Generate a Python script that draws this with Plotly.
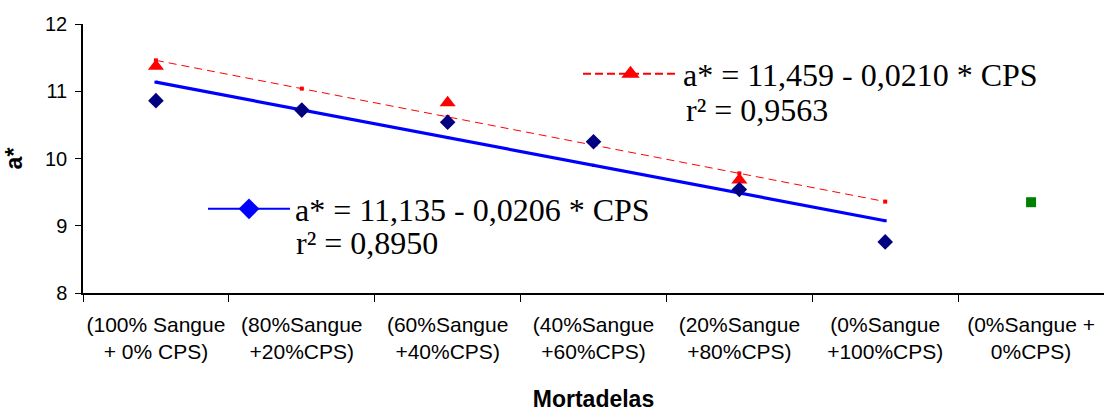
import plotly.graph_objects as go

categories = [
    "(100% Sangue<br>+ 0% CPS)",
    "(80%Sangue<br>+20%CPS)",
    "(60%Sangue<br>+40%CPS)",
    "(40%Sangue<br>+60%CPS)",
    "(20%Sangue<br>+80%CPS)",
    "(0%Sangue<br>+100%CPS)",
    "(0%Sangue +<br>0%CPS)",
]

# observed a* values (diamonds)
blue_cats = categories[0:6]
blue_values = [10.86, 10.72, 10.54, 10.25, 9.54, 8.76]
# observed a* values (triangles)
red_cats = [categories[0], categories[2], categories[4]]
red_values = [11.37, 10.83, 9.68]
# control (square)
green_cats = [categories[6]]
green_values = [9.35]
# fitted lines
blue_fit = [11.135, 10.723, 10.311, 9.899, 9.487, 9.075]
red_fit = [11.459, 11.039, 10.619, 10.199, 9.779, 9.359]

blue_label = "a* = 11,135 - 0,0206 * CPS"
blue_r2 = "r² = 0,8950"
red_label = "a* = 11,459 - 0,0210 * CPS"
red_r2 = "r² = 0,9563"

y_ticks = [8, 9, 10, 11, 12]

fig = go.Figure()

fig.add_trace(go.Scatter(
    x=categories[0:6], y=red_fit, mode="lines+markers",
    line=dict(color="#FF0000", width=1, dash="8px,5px"),
    marker=dict(symbol="square", size=4, color="#FF0000"),
    showlegend=False, hoverinfo="skip"))
fig.add_trace(go.Scatter(
    x=categories[0:6], y=blue_fit, mode="lines+markers",
    line=dict(color="#0000FF", width=3.2),
    marker=dict(symbol="square", size=3, color="#0000FF"),
    showlegend=False, hoverinfo="skip"))
fig.add_trace(go.Scatter(
    x=red_cats, y=red_values, mode="markers",
    marker=dict(symbol="triangle-up", size=14, color="#FF0000"),
    showlegend=False))
fig.add_trace(go.Scatter(
    x=blue_cats, y=blue_values, mode="markers",
    marker=dict(symbol="diamond", size=12, color="#000080"),
    showlegend=False))
fig.add_trace(go.Scatter(
    x=green_cats, y=green_values, mode="markers",
    marker=dict(symbol="square", size=10, color="#008000"),
    showlegend=False))

# legend samples
fig.add_trace(go.Scatter(
    x=[None], y=[None], mode="lines+markers", name=blue_label,
    line=dict(color="#0000FF", width=2),
    marker=dict(symbol="diamond", size=22, color="#0000FF"),
    legend="legend"))
fig.add_trace(go.Scatter(
    x=[None], y=[None], mode="lines+markers", name=red_label,
    line=dict(color="#FF0000", width=2, dash="8px,4px"),
    marker=dict(symbol="triangle-up", size=24, color="#FF0000"),
    legend="legend2"))

legend_font = dict(family="Liberation Serif, Times New Roman, serif", size=32, color="black")

fig.update_layout(
    width=1104, height=415,
    margin=dict(l=83, r=0, t=24, b=122, autoexpand=False),
    paper_bgcolor="white", plot_bgcolor="white",
    showlegend=True,
    legend=dict(x=(203 - 83) / 1021, y=(293 - 209) / 269, xanchor="left", yanchor="middle",
                font=legend_font, itemwidth=82, bgcolor="rgba(0,0,0,0)", borderwidth=0),
    legend2=dict(x=(578 - 83) / 1021, y=(293 - 74) / 269, xanchor="left", yanchor="middle",
                 font=legend_font, itemwidth=95, bgcolor="rgba(0,0,0,0)", borderwidth=0),
    xaxis=dict(
        type="category", categoryorder="array", categoryarray=categories,
        range=[-0.5, 6.5], tickson="boundaries", ticks="outside", ticklen=7,
        tickcolor="black", showline=True, linecolor="black", linewidth=1.5,
        showgrid=False, zeroline=False, ticklabelstandoff=12, tickangle=0, automargin=False,
        tickfont=dict(family="Liberation Sans, Arial, sans-serif", size=21, color="black"),
        title=dict(text="<b>Mortadelas</b>", standoff=29,
                   font=dict(family="Liberation Sans, Arial, sans-serif", size=23, color="black")),
    ),
    yaxis=dict(
        range=[8, 12], tickvals=y_ticks, ticks="outside", ticklen=6,
        tickcolor="black", showline=True, linecolor="black", linewidth=1.5,
        showgrid=False, zeroline=False, ticklabelstandoff=4, automargin=True,
        tickfont=dict(family="Liberation Sans, Arial, sans-serif", size=20, color="black"),
        title=dict(text="<b>a*</b>", standoff=16,
                   font=dict(family="Liberation Sans, Arial, sans-serif", size=23, color="black")),
    ),
    annotations=[
        dict(xref="paper", yref="paper", x=(294 - 83) / 1021, y=(293 - 243) / 269,
             xanchor="left", yanchor="middle", text=blue_r2, showarrow=False, font=legend_font),
        dict(xref="paper", yref="paper", x=(684 - 83) / 1021, y=(293 - 110) / 269,
             xanchor="left", yanchor="middle", text=red_r2, showarrow=False, font=legend_font),
    ],
)

fig.write_html("out.html")
